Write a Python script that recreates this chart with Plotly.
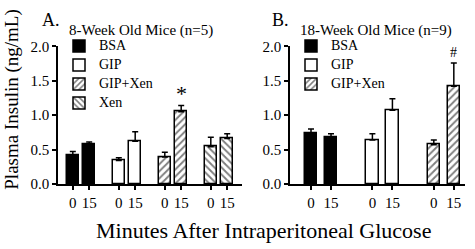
import plotly.graph_objects as go

# ---- data ----
groups_a = ["BSA", "GIP", "GIP+Xen", "Xen"]
mean_a_0 = [0.42, 0.34, 0.39, 0.54]
err_a_0 = [0.05, 0.04, 0.07, 0.14]
mean_a_15 = [0.58, 0.62, 1.05, 0.66]
err_a_15 = [0.03, 0.14, 0.09, 0.07]

groups_b = ["BSA", "GIP", "GIP+Xen"]
mean_b_0 = [0.73, 0.64, 0.57]
err_b_0 = [0.07, 0.09, 0.07]
mean_b_15 = [0.68, 1.07, 1.42]
err_b_15 = [0.05, 0.17, 0.34]

time_labels = ["0", "15"]
y_ticks = [0.0, 0.5, 1.0, 1.5, 2.0]

FONT = "Liberation Serif"

styles = {
    "BSA": dict(color="black", pattern=dict(shape="")),
    "GIP": dict(color="white", pattern=dict(shape="")),
    "GIP+Xen": dict(color="white", pattern=dict(shape="/", fgcolor="black", bgcolor="white", size=5, solidity=0.38)),
    "Xen": dict(color="white", pattern=dict(shape="\\", fgcolor="black", bgcolor="white", size=5, solidity=0.38)),
}

fig = go.Figure()


def add_panel(groups, m0, e0, m15, e15, xa, ya, legend, offset, width):
    tickvals, ticktext = [], []
    for i, g in enumerate(groups):
        xs = [i - offset, i + offset]
        st = styles[g]
        fig.add_trace(go.Bar(
            x=xs, y=[m0[i], m15[i]], width=width,
            name=f'<span style="font-size:14px">{g}</span>',
            marker=dict(color=st["color"], pattern=st["pattern"],
                        line=dict(color="black", width=1.5)),
            error_y=dict(type="data", symmetric=False, array=[e0[i], e15[i]],
                         arrayminus=[0, 0], color="black", thickness=1.5, width=3),
            xaxis=xa, yaxis=ya, legend=legend, showlegend=True,
        ))
        tickvals += xs
        ticktext += time_labels
    return tickvals, ticktext


tv_a, tt_a = add_panel(groups_a, mean_a_0, err_a_0, mean_a_15, err_a_15, "x", "y", "legend", 0.178, 0.27)
tv_b, tt_b = add_panel(groups_b, mean_b_0, err_b_0, mean_b_15, err_b_15, "x2", "y2", "legend2", 0.163, 0.2)

W, H = 475, 249
ydom = [(H - 188) / H, (H - 41) / H]

axis_common = dict(showline=True, linecolor="black", linewidth=1.5, ticks="outside",
                   tickcolor="black", tickwidth=1.5, ticklen=4, showgrid=False, zeroline=False,
                   tickfont=dict(family=FONT, size=15, color="black"))

fig.update_layout(
    width=W, height=H, margin=dict(l=0, r=0, t=0, b=0),
    plot_bgcolor="white", paper_bgcolor="white", bargap=0,
    font=dict(family=FONT, color="black"),
    xaxis=dict(domain=[58 / W, 242 / W], range=[-0.5, 3.5], tickvals=tv_a, ticktext=tt_a, **axis_common),
    yaxis=dict(domain=ydom, range=[0, 2], tickvals=y_ticks, tickformat=".1f", **axis_common),
    xaxis2=dict(domain=[290 / W, 465 / W], range=[-0.505, 2.345], tickvals=tv_b, ticktext=tt_b, anchor="y2", **axis_common),
    yaxis2=dict(domain=ydom, range=[0, 2], tickvals=y_ticks, tickformat=".1f", anchor="x2", **axis_common),
    legend=dict(x=59 / W, y=1 - 25 / H, xanchor="left", yanchor="top", bgcolor="rgba(0,0,0,0)",
                font=dict(family=FONT, size=10, color="black"), tracegroupgap=0),
    legend2=dict(x=291 / W, y=1 - 25 / H, xanchor="left", yanchor="top", bgcolor="rgba(0,0,0,0)",
                 font=dict(family=FONT, size=10, color="black"), tracegroupgap=0),
    showlegend=True,
)

ann = [
    dict(text="A.", x=40 / W, y=1 - 13 / H, size=18),
    dict(text="8-Week Old Mice (n=5)", x=67 / W, y=1 - 24 / H, size=15),
    dict(text="B.", x=270 / W, y=1 - 13 / H, size=18),
    dict(text="18-Week Old Mice (n=9)", x=298 / W, y=1 - 24 / H, size=15),
]
for a in ann:
    fig.add_annotation(text=a["text"], x=a["x"], y=a["y"], xref="paper", yref="paper",
                       xanchor="left", yanchor="middle", showarrow=False,
                       font=dict(family=FONT, size=a["size"], color="black"))

fig.add_annotation(text="Plasma Insulin (ng/mL)", x=12 / W, y=1 - 98 / H, xref="paper", yref="paper",
                   textangle=-90, showarrow=False, xanchor="center", yanchor="middle",
                   font=dict(family=FONT, size=19, color="black"))
fig.add_annotation(text="Minutes After Intraperitoneal Glucose", x=263 / W, y=1 - 238 / H,
                   xref="paper", yref="paper", showarrow=False, xanchor="center", yanchor="middle",
                   font=dict(family=FONT, size=22, color="black"))

# significance marks
ia = groups_a.index("GIP+Xen")
fig.add_annotation(text="*", x=ia + 0.178, y=mean_a_15[ia] + err_a_15[ia], xref="x", yref="y",
                   showarrow=False, yanchor="bottom", yshift=-2,
                   font=dict(family=FONT, size=22, color="black"))
ib = groups_b.index("GIP+Xen")
fig.add_annotation(text="#", x=ib + 0.163, y=mean_b_15[ib] + err_b_15[ib], xref="x2", yref="y2",
                   showarrow=False, yanchor="bottom", yshift=1,
                   font=dict(family=FONT, size=14, color="black"))

fig.write_html("out.html", config={"displayModeBar": False},
               post_script="document.body.style.margin='0';document.body.style.padding='0';")
